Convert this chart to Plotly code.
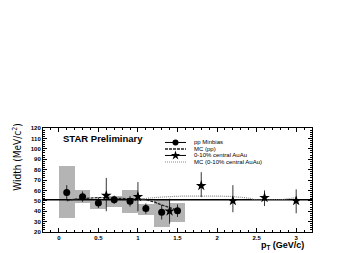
import plotly.graph_objects as go

# pp Minbias
pp_x = [0.1, 0.3, 0.5, 0.7, 0.9, 1.1, 1.3, 1.5]
pp_y = [58, 54, 48, 51, 49.5, 42.5, 39, 40.5]
pp_err = [7, 5, 5, 4, 5, 5, 7, 6]
# systematic boxes (low, high)
sys_low = [33, 48, 42, 44, 38, 36, 25, 30]
sys_high = [83, 60, 52, 55, 60, 47, 51, 48]

# 0-10% central AuAu
au_x = [0.6, 1.0, 1.4, 1.8, 2.2, 2.6, 3.0]
au_y = [55, 54, 40, 64.5, 50, 53, 50]
au_err_plus = [17, 14, 12, 13, 15, 7, 11]
au_err_minus = [15, 14, 12, 11, 11, 8, 12]

# MC curves
mcpp_x = [0.1, 0.2, 0.3, 0.5, 0.7, 0.9, 1.0, 1.1, 1.2, 1.3, 1.4, 1.5]
mcpp_y = [50, 51.5, 52, 53, 52.5, 52, 52, 51, 49, 46, 43.5, 41]
mcau_x = [1.0, 1.2, 1.4, 1.6, 1.8, 2.0, 2.2, 2.4, 2.5, 2.6, 2.8, 2.9, 3.0]
mcau_y = [51.5, 53, 54, 54.5, 54.5, 54.5, 54, 52.5, 51, 51, 51, 52, 53]

ref_level = 51
xr = [-0.2, 3.2]

legend_labels = ["pp Minbias", "MC (pp)", "0-10% central AuAu", "MC (0-10% central AuAu)"]

# styles
MCPP_LINE = dict(color="#222222", width=1.3, dash="3px,1px")
MCAU_LINE = dict(color="#8a8a8a", width=1.2, dash="1px,1px")

fig = go.Figure()

fig.add_trace(go.Bar(
    x=pp_x, y=[h - l for h, l in zip(sys_high, sys_low)], base=sys_low,
    width=0.2, marker=dict(color="#b4b4b4", line=dict(width=0)),
    hoverinfo="skip"))

fig.add_trace(go.Scatter(
    x=xr, y=[ref_level, ref_level], mode="lines",
    line=dict(color="black", width=1.5)))

fig.add_trace(go.Scatter(
    x=mcpp_x, y=mcpp_y, mode="lines", line=MCPP_LINE, line_shape="spline"))

fig.add_trace(go.Scatter(
    x=mcau_x, y=mcau_y, mode="lines", line=MCAU_LINE, line_shape="spline"))

fig.add_trace(go.Scatter(
    x=pp_x, y=pp_y, mode="markers",
    marker=dict(symbol="circle", size=7, color="black"),
    error_y=dict(type="data", array=pp_err, color="black", thickness=0.8, width=0)))

fig.add_trace(go.Scatter(
    x=au_x, y=au_y, mode="markers",
    marker=dict(symbol="star", size=8, color="black"),
    error_y=dict(type="data", array=au_err_plus, arrayminus=au_err_minus,
                 color="black", thickness=0.8, width=0)))

# ---- custom compact legend drawn on an overlay unit axis ----
leg_x0, leg_x1, leg_tx = 0.4535, 0.5316, 0.553
leg_rows = [0.861, 0.798, 0.736, 0.673]
leg_styles = [
    dict(line=dict(color="black", width=1),
         marker=dict(symbol="circle", size=6, color="black")),
    dict(line=MCPP_LINE),
    dict(line=dict(color="black", width=1),
         marker=dict(symbol="star", size=7, color="black")),
    dict(line=MCAU_LINE),
]
for row, st in zip(leg_rows, leg_styles):
    fig.add_trace(go.Scatter(x=[leg_x0, leg_x1], y=[row, row], xaxis="x2", yaxis="y2",
                             hoverinfo="skip", line=st["line"], mode="lines"))
    if "marker" in st:
        fig.add_trace(go.Scatter(x=[(leg_x0 + leg_x1) / 2], y=[row], xaxis="x2", yaxis="y2",
                                 mode="markers", marker=st["marker"], hoverinfo="skip"))

axis_common = dict(showline=True, linecolor="black", linewidth=1, mirror="ticks",
                   ticks="inside", ticklen=4, tickcolor="black", showgrid=False,
                   zeroline=False,
                   tickfont=dict(family="Liberation Sans", size=6, color="black", weight="bold"))

annotations = [
    dict(text="<b>STAR Preliminary</b>", x=0.066, y=0.90, xref="paper", yref="paper",
         xanchor="left", yanchor="middle", showarrow=False,
         font=dict(family="Liberation Sans", size=9.5, color="black")),
    dict(text="Width (MeV/c<sup>2</sup>)", x=-0.098, y=0.72, xref="paper", yref="paper",
         textangle=-90, showarrow=False, xanchor="center", yanchor="middle",
         font=dict(family="DejaVu Sans Condensed, Liberation Sans Narrow, Liberation Sans",
                   size=10, color="black")),
    dict(text="<b>p<sub>T</sub> (GeV/c)</b>", x=0.975, y=-0.19, xref="paper", yref="paper",
         xanchor="right", yanchor="bottom", showarrow=False, borderpad=0,
         font=dict(family="Liberation Sans", size=9, color="black")),
]
for row, lab in zip(leg_rows, legend_labels):
    annotations.append(dict(text=lab, x=leg_tx, y=row, xref="x2", yref="y2",
                            xanchor="left", yanchor="middle", showarrow=False,
                            font=dict(family="Liberation Sans", size=6, color="black")))

# page body adds an 8px offset, so the figure is 8px smaller and margins shifted
fig.update_layout(
    width=337, height=245,
    margin=dict(l=35, r=33, t=120, b=21),
    paper_bgcolor="white", plot_bgcolor="white",
    bargap=0, showlegend=False,
    xaxis=dict(range=xr, tickvals=[0, 0.5, 1, 1.5, 2, 2.5, 3],
               ticktext=["0", "0.5", "1", "1.5", "2", "2.5", "3"],
               minor=dict(dtick=0.1, ticks="inside", ticklen=2, tickcolor="black"),
               **axis_common),
    yaxis=dict(range=[20, 120], dtick=10,
               minor=dict(dtick=2, ticks="inside", ticklen=2, tickcolor="black"),
               **axis_common),
    xaxis2=dict(range=[0, 1], overlaying="x", visible=False),
    yaxis2=dict(range=[0, 1], overlaying="y", visible=False),
    annotations=annotations,
)

fig.write_html("out.html")
